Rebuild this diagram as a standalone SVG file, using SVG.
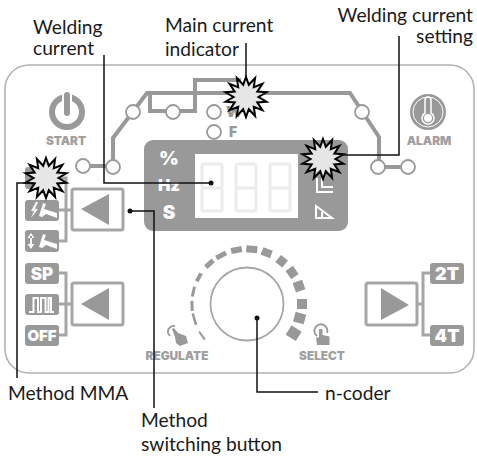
<svg xmlns="http://www.w3.org/2000/svg" width="477" height="456" viewBox="0 0 477 456">
<defs>
<style>
.lbl{font-family:"Lato","Liberation Sans",sans-serif;font-size:19.200px;fill:#1a1a1a}
.cap{font-family:"Inter","Liberation Sans",sans-serif;font-weight:900;font-size:11.800px;fill:#a0a0a0;text-anchor:middle}
.wt{font-family:"Inter","Liberation Sans",sans-serif;font-weight:900;fill:#fff;text-anchor:middle}
.bus{fill:none;stroke:#999;stroke-width:4}
.thin{fill:none;stroke:#a6a6a6;stroke-width:3}
.led{fill:#fff;stroke:#999;stroke-width:1.800}
.seg{fill:none;stroke:#ececec;stroke-width:3}
.tag{fill:#999}
.btn{fill:#fff;stroke:#a6a6a6;stroke-width:3}
.tri{fill:#999}
.star{fill:#e6e6e6;stroke:#000;stroke-width:2;stroke-linejoin:miter;stroke-miterlimit:12}
.ann{fill:none;stroke:#111;stroke-width:1.500}
.ic{fill:none;stroke:#fff;stroke-width:2}
.d{fill:#999}
</style>
<polygon id="burst" points="0,-20 2.800,-12.200 9.100,-18.900 7.800,-9.800 16.400,-13.100 11.300,-5.400 20.500,-4.700 12.500,0 20.500,4.700 11.300,5.400 16.400,13.100 7.800,9.800 9.100,18.900 2.800,12.200 0,20 -2.800,12.200 -9.100,18.900 -7.800,9.800 -16.400,13.100 -11.300,5.400 -20.500,4.700 -12.500,0 -20.500,-4.700 -11.300,-5.400 -16.400,-13.100 -7.800,-9.800 -9.100,-18.900 -2.800,-12.200"/>
</defs>
<rect width="477" height="456" fill="#fff"/>
<g id="panel"><rect x="5" y="65" width="469" height="308" rx="24" fill="#fff" stroke="#b3b3b3" stroke-width="1.600"/></g>

<g id="bus-lines">
<path class="bus" d="M83 166H113V138L147 93H350L379 137V167H408"/>
<path class="bus" d="M150 93V111H195V80H241"/>
<path class="thin" d="M59 178H66V241H59M59 210H72"/>
<path class="thin" d="M59 273H66V335H59M59 304H72"/>
<path class="thin" d="M430 273H423V335H430M423 304H417"/>
</g>

<g id="leds">
<circle class="led" cx="83" cy="166" r="7"/><circle class="led" cx="113" cy="167" r="7"/>
<circle class="led" cx="133" cy="112" r="7"/><circle class="led" cx="173" cy="112" r="7"/>
<circle class="led" cx="214" cy="112" r="7"/><circle class="led" cx="214" cy="132" r="7"/>
<circle class="led" cx="362" cy="112" r="7"/><circle class="led" cx="378" cy="167" r="7"/><circle class="led" cx="408" cy="167" r="7"/>
</g>
<g id="wf">
<text x="226" y="117" font-family="Inter,sans-serif" font-weight="900" font-size="15" fill="#999">W</text>
<text x="229" y="137" font-family="Inter,sans-serif" font-weight="900" font-size="14" fill="#999">F</text>
</g>

<g id="start">
<circle cx="67" cy="112" r="15" fill="none" stroke="#999" stroke-width="6"/>
<path d="M67 93V112" stroke="#fff" stroke-width="10" fill="none"/>
<path d="M67 95V113" stroke="#999" stroke-width="6" stroke-linecap="round" fill="none"/>
<text class="cap" x="66" y="145">START</text>
</g>
<g id="alarm">
<circle cx="428" cy="112" r="18" fill="#999"/>
<circle cx="428" cy="112" r="15" fill="none" stroke="#fff" stroke-width="1"/>
<path d="M425 100a3 3 0 0 1 6 0V113a6 6 0 1 1-6 0Z" fill="#999" stroke="#fff" stroke-width="1.500"/>
<circle cx="428" cy="118" r="4" fill="#fff"/>
<text class="cap" x="429" y="145">ALARM</text>
</g>

<g id="display">
<rect x="144" y="140" width="204" height="91" rx="9" fill="#999"/>
<rect x="195" y="154" width="103" height="64" fill="#fff"/>
<path class="seg" d="M204 164H220Q222 164 222 166V186Q222 188 220 188H204Q202 188 202 186V166Q202 164 204 164ZM204 188H220Q222 188 222 190V209Q222 211 220 211H204Q202 211 202 209V190Q202 188 204 188Z"/>
<path class="seg" d="M238 164H254Q256 164 256 166V186Q256 188 254 188H238Q236 188 236 186V166Q236 164 238 164ZM238 188H254Q256 188 256 190V209Q256 211 254 211H238Q236 211 236 209V190Q236 188 238 188Z"/>
<path class="seg" d="M272 164H288Q290 164 290 166V186Q290 188 288 188H272Q270 188 270 186V166Q270 164 272 164ZM272 188H288Q290 188 290 190V209Q290 211 288 211H272Q270 211 270 209V190Q270 188 272 188Z"/>
<text class="wt" x="169" y="165" font-size="19">%</text>
<text class="wt" x="169" y="191" font-size="16.500">Hz</text>
<text class="wt" x="169" y="219" font-size="19">S</text>
<path class="ic" d="M317 178V192H333M322 178V187H333"/>
<path class="ic" d="M316 206V218H332ZM322 218V212"/>
</g>

<g id="dial">
<circle cx="247" cy="304" r="36.500" fill="none" stroke="#a6a6a6" stroke-width="1.800"/>
<g class="d">
<rect x="242" y="248" width="10" height="2" transform="rotate(-125 247 304)"/>
<rect x="241" y="248" width="12" height="2.500" transform="rotate(-106 247 304)"/>
<rect x="242" y="247.500" width="10" height="3" transform="rotate(-92 247 304)"/>
<rect x="242" y="247.500" width="10" height="3" transform="rotate(-77 247 304)"/>
<rect x="242.500" y="247" width="9" height="4" transform="rotate(-61 247 304)"/>
<rect x="242" y="246.500" width="10" height="5" transform="rotate(-43 247 304)"/>
<rect x="241.500" y="246.500" width="11" height="5" transform="rotate(-28 247 304)"/>
<rect x="241.500" y="246" width="11" height="6" transform="rotate(-11 247 304)"/>
<rect x="241.500" y="245.500" width="11" height="7" transform="rotate(5 247 304)"/>
<rect x="242" y="245" width="10" height="8" transform="rotate(21 247 304)"/>
<rect x="242.500" y="244.500" width="9" height="9" transform="rotate(39 247 304)"/>
<rect x="242" y="244.500" width="10" height="9" transform="rotate(55 247 304)"/>
<rect x="242" y="244" width="10" height="10" transform="rotate(71 247 304)"/>
<rect x="242" y="244" width="10" height="10" transform="rotate(90 247 304)"/>
<rect x="242" y="244" width="10" height="11" transform="rotate(105 247 304)"/>
<rect x="241.500" y="243" width="11" height="12" transform="rotate(122 247 304)"/>
</g>
</g>
<g id="regulate">
<path d="M175 326a6 6 0 0 0-7 7l2 3" fill="none" stroke="#999" stroke-width="1.800"/>
<path d="M172 329L174 328L178 333L186 336L188 343L180 346L176 343L175 337Z" fill="#999"/>
<text class="cap" x="177" y="360">REGULATE</text>
</g>
<g id="select">
<path d="M317 336a6.500 6.500 0 1 1 10-3" fill="none" stroke="#999" stroke-width="1.800"/>
<path d="M319 329h3.500v6l7 1.500v8.500h-12.500l-1-7 3-1Z" fill="#999"/>
<text class="cap" x="322" y="360">SELECT</text>
</g>

<g id="mode-buttons">
<rect class="tag" x="25" y="167" width="34" height="22" rx="3"/>
<rect class="tag" x="25" y="200" width="34" height="21" rx="3"/>
<path d="M36 202L31 211H34L31 218L38 209H35L38 202Z" fill="#fff"/>
<path d="M39 216L43 203L46 204L44 209L57 213V218L46 214L42 217Z" fill="#fff"/>
<rect class="tag" x="25" y="230" width="34" height="22" rx="3"/>
<path d="M31 233L27.500 238H34.500ZM31 249L27.500 244H34.500ZM30 236H32V246H30Z" fill="#fff"/>
<path d="M39 247L43 234L46 235L44 240L57 244V249L46 245L42 248Z" fill="#fff"/>
<rect class="btn" x="72" y="189" width="51" height="41" rx="2"/>
<polygon class="tri" points="109,194 81,209 109,225"/>
<rect class="tag" x="25" y="263" width="34" height="21" rx="3"/>
<text class="wt" x="42" y="280" font-size="17">SP</text>
<rect class="tag" x="25" y="294" width="34" height="21" rx="3"/>
<path d="M29 312H33.500V298H38V312H41V298H45.500V312H48.500V298H51V312H54" fill="none" stroke="#fff" stroke-width="2"/>
<rect class="tag" x="25" y="325" width="34" height="21" rx="3"/>
<text class="wt" x="42" y="341" font-size="15">OFF</text>
<rect class="btn" x="72" y="283" width="51" height="42" rx="2"/>
<polygon class="tri" points="109,288 81,304 109,320"/>
<rect class="btn" x="366" y="283" width="51" height="42" rx="2"/>
<polygon class="tri" points="381,288 409,305 381,320"/>
<rect class="tag" x="430" y="263" width="34" height="21" rx="3"/>
<text class="wt" x="447" y="280" font-size="18">2T</text>
<rect class="tag" x="430" y="325" width="34" height="21" rx="3"/>
<text class="wt" x="447" y="342" font-size="18">4T</text>
</g>

<g id="indicators">
<use href="#burst" class="star" x="246" y="97"/>
<use href="#burst" class="star" x="323" y="159"/>
<use href="#burst" class="star" x="46" y="178"/>
</g>

<g id="connectors">
<path class="ann" d="M104 55V183H211"/>
<circle cx="211" cy="183" r="2.500" fill="#111"/>
<path class="ann" d="M246 43V78"/>
<path class="ann" d="M399 36V155H340"/>
<path class="ann" d="M17 378V183H34"/>
<path class="ann" d="M130 211H154V408"/>
<circle cx="130" cy="211" r="2.500" fill="#111"/>
<path class="ann" d="M257 318V392H318"/>
<circle cx="257" cy="318" r="2.500" fill="#111"/>
</g>

<g id="labels">
<text class="lbl" x="33" y="34">Welding</text>
<text class="lbl" x="33" y="55">current</text>
<text class="lbl" x="165" y="32">Main current</text>
<text class="lbl" x="165" y="56">indicator</text>
<text class="lbl" x="473" y="22" text-anchor="end">Welding current</text>
<text class="lbl" x="473" y="43" text-anchor="end">setting</text>
<text class="lbl" x="8" y="400">Method MMA</text>
<text class="lbl" x="325" y="400">n-coder</text>
<text class="lbl" x="141" y="427">Method</text>
<text class="lbl" x="141" y="451">switching button</text>
</g>
</svg>
